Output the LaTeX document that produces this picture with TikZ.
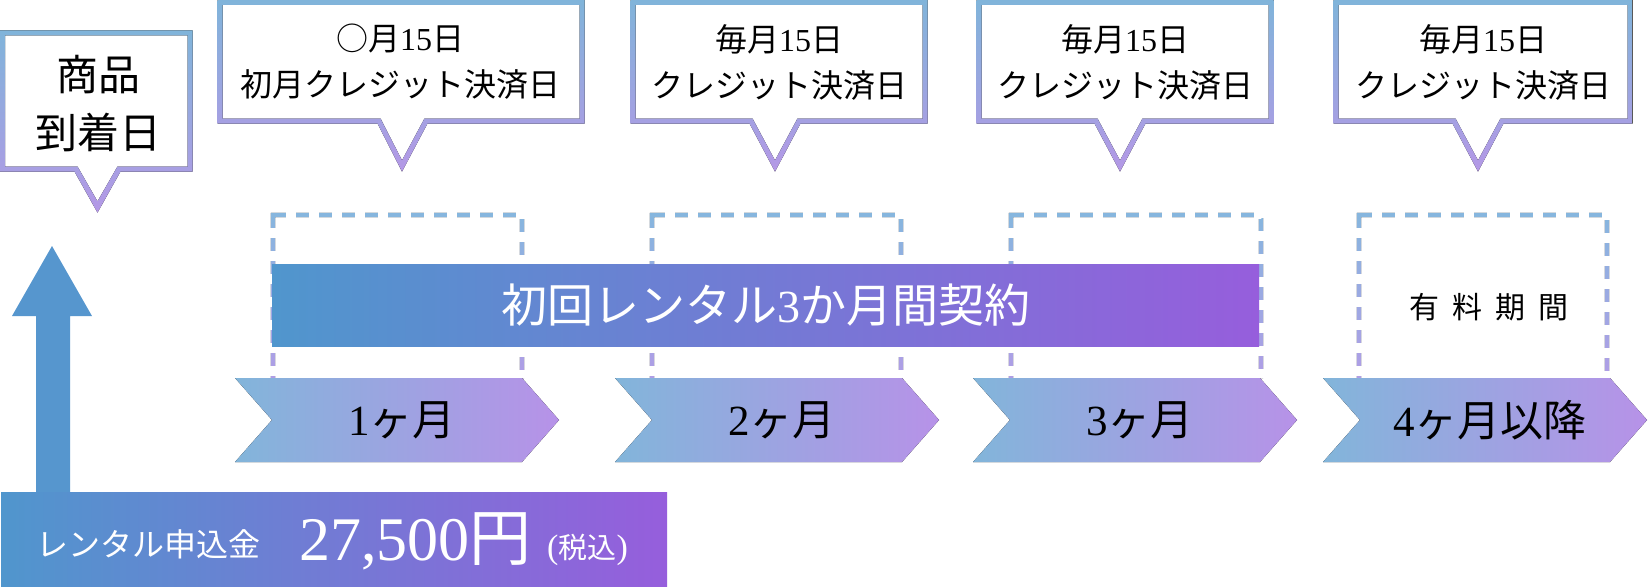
\documentclass[tikz,border=0pt]{standalone}
\usepackage{fontspec}
\setmainfont{Liberation Serif}
\newfontfamily\jp{Noto Sans CJK JP}
\newcommand\lat[1]{{\rmfamily #1}}
\definecolor{cbtop}{RGB}{128,180,218}
\definecolor{cbbot}{RGB}{180,152,230}
\definecolor{dtop}{RGB}{134,182,222}
\definecolor{dbot}{RGB}{176,157,230}
\definecolor{barL}{RGB}{80,150,205}
\definecolor{barR}{RGB}{150,94,220}
\definecolor{chL}{RGB}{130,181,218}
\definecolor{chR}{RGB}{183,146,232}
\definecolor{arrowc}{RGB}{86,150,206}
% callout: L R T B a b c P (centre line of the 5px border)
\newcommand\mycallout[8]{%
  \fill[top color=cbtop, bottom color=cbbot, even odd rule]
    ({#1-2.5},{#3-2.5}) -- ({#2+2.5},{#3-2.5}) -- ({#2+2.5},{#4+2.5}) -- ({#6+1.5},{#4+2.5}) -- (#7,{#8+5.6}) -- ({#5-1.5},{#4+2.5}) -- ({#1-2.5},{#4+2.5}) -- cycle
    ({#1+2.5},{#3+2.5}) -- ({#2-2.5},{#3+2.5}) -- ({#2-2.5},{#4-2.5}) -- ({#6-1.5},{#4-2.5}) -- (#7,{#8-5.6}) -- ({#5+1.5},{#4-2.5}) -- ({#1+2.5},{#4-2.5}) -- cycle;}
% dashed box open at the bottom: L R
\newcommand\mydashbox[2]{%
  \fill[top color=dtop, bottom color=dbot]
    ({#1-2.2},378) -- ({#1-2.2},212.8) -- ({#2+2.2},212.8) -- ({#2+2.2},378) -- ({#2-2.2},378) -- ({#2-2.2},217.2) -- ({#1+2.2},217.2) -- ({#1+2.2},378) -- cycle;
  \draw[white, line width=7pt, dash pattern=on 10pt off 13pt, dash phase=10pt] (#1,215) -- (#2,215) -- (#2,378);
  \draw[white, line width=7pt, dash pattern=on 10pt off 13pt, dash phase=10pt] (#1,215) -- (#1,378);}
% chevron from left x
\newcommand\mychevron[1]{%
  \fill[left color=chL, right color=chR]
    (#1,378) -- ({#1+287},378) -- ({#1+324},420) -- ({#1+287},462) -- (#1,462) -- ({#1+37},420) -- cycle;}
\tikzset{
  ctextA/.style={font=\jp\fontsize{42}{58}\selectfont, align=center, inner sep=0pt},
  ctextB/.style={font=\jp\fontsize{32}{46}\selectfont, align=center, inner sep=0pt},
  chtext/.style={font=\jp\fontsize{43}{48}\selectfont, inner sep=0pt},
  bartext/.style={font=\jp\fontsize{46}{50}\selectfont, text=white, inner sep=0pt},
}
\begin{document}
\begin{tikzpicture}[x=1pt,y=-1pt]
\fill[white] (0,0) rectangle (1648,586);
\useasboundingbox (0,0) rectangle (1648,586);
% callouts
\mycallout{2.5}{190}{33}{169}{76}{119}{97.5}{207}
\mycallout{220}{582}{2.5}{121}{379}{426}{402}{166}
\mycallout{633}{925}{2.5}{121}{751}{799}{775}{166}
\mycallout{979}{1271}{2.5}{121}{1096}{1144}{1120}{166}
\mycallout{1336}{1630}{2.5}{121}{1454}{1502}{1478}{166}
\node[ctextA] (t1) at (98,104) {商品\\到着日};
\node[ctextB] (t2) at (400,62) {○月\lat{15}日\\初月クレジット決済日};
\node[ctextB] (t3) at (779,62) {毎月\lat{15}日\\クレジット決済日};
\node[ctextB] (t4) at (1125,62) {毎月\lat{15}日\\クレジット決済日};
\node[ctextB] (t5) at (1483,62) {毎月\lat{15}日\\クレジット決済日};
% dashed boxes
\mydashbox{273}{522}
\mydashbox{652}{901}
\mydashbox{1011}{1261}
\mydashbox{1359}{1607}
% contract bar
\fill[left color=barL, right color=barR] (272,264) rectangle (1259,346);
\node[bartext] (bar) at (766,305) {初回レンタル\lat{3}か月間契約};
\node[font=\jp\fontsize{30}{34}\selectfont, inner sep=0pt] (paid) at (1489,307) {有\hspace{13pt}料\hspace{13pt}期\hspace{13pt}間};
% chevrons
\mychevron{235}
\mychevron{615}
\mychevron{973}
\mychevron{1323}
\node[chtext] (m1) at (402,420) {\lat{1}ヶ月};
\node[chtext] (m2) at (782,420) {\lat{2}ヶ月};
\node[chtext] (m3) at (1140,420) {\lat{3}ヶ月};
\node[chtext] (m4) at (1490,420) {\lat{4}ヶ月以降};
% up arrow
\fill[arrowc] (36,493) -- (36,316) -- (12,316) -- (52,246) -- (92,316) -- (70,316) -- (70,493) -- cycle;
% bottom bar
\fill[left color=barL, right color=barR] (1,492) rectangle (667,586);
\node[font=\jp\fontsize{32}{36}\selectfont, text=white, inner sep=0pt, anchor=base west] (fee) at (36,556) {レンタル申込金};
\node[font=\rmfamily\fontsize{62}{66}\selectfont, text=white, inner sep=0pt, anchor=base west] (price) at (299,560) {27,500{\jp 円}};
\node[font=\jp\fontsize{29}{32}\selectfont, text=white, inner sep=0pt, anchor=base west] (tax) at (547,558) {\lat{\fontsize{34}{36}\selectfont(}税込\lat{\fontsize{34}{36}\selectfont)}};
\end{tikzpicture}
\end{document}
